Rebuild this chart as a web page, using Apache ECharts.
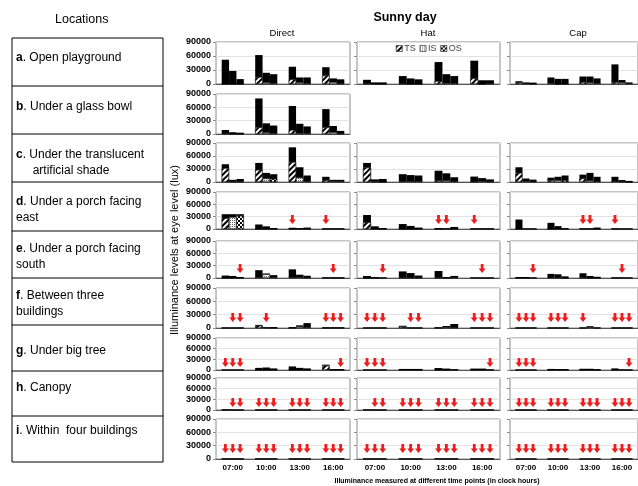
<!DOCTYPE html>
<html>
<head>
<meta charset="utf-8">
<script src="https://cdn.jsdelivr.net/npm/echarts@6/dist/echarts.min.js"></script>
<style>
  html, body { margin: 0; padding: 0; background: #fff; }
  #chart { width: 638px; height: 486px; }
</style>
</head>
<body>
<div id="chart"></div>
<script>
// time points and panel columns
const times = ['07:00', '10:00', '13:00', '16:00']
const columns = ['Direct', 'Hat', 'Cap']
const positions = ['TS', 'IS', 'OS']
const locations = [
  ['{b|a}. Open playground'],
  ['{b|b}. Under a glass bowl'],
  ['{b|c}. Under the translucent', '     artificial shade'],
  ['{b|d}. Under a porch facing', 'east'],
  ['{b|e}. Under a porch facing', 'south'],
  ['{b|f}. Between three', 'buildings'],
  ['{b|g}. Under big tree'],
  ['{b|h}. Canopy'],
  ['{b|i}. Within  four buildings']
]

// per row: [Direct, Hat, Cap], 12 values each: (07:00 TS,IS,OS, 10:00 TS,IS,OS, ...)
const totalA = [
  [52000, 28000, 10500, 62000, 24000, 21000, 37000, 14000, 14000, 36000, 12000, 10000],
  [9000, 3500, 3500, 17000, 12000, 10000, 47000, 21000, 17000, 50000, 8000, 8000],
  [6000, 3500, 3000, 14000, 11000, 11000, 16000, 16000, 12000, 42000, 8500, 3500]
]
const patternA = [
  [0, 0, 0, 15000, 3000, 2000, 10000, 3000, 2000, 18000, 4000, 1000],
  [1000, 0, 0, 1000, 0, 0, 6000, 2000, 2000, 12000, 0, 1000],
  [3000, 1000, 0, 2000, 0, 0, 4000, 3000, 2000, 4000, 3000, 1000]
]
const arrowsA = [null, null, null]

const totalB = [
  [9000, 4000, 3000, 80000, 24000, 19000, 63000, 23000, 17000, 56000, 18000, 7000],
  null, null
]
const patternB = [
  [1000, 0, 0, 15000, 3000, 2000, 9000, 2000, 2000, 15000, 4000, 1000],
  null, null
]
const arrowsB = [null, null, null]

const totalC = [
  [41000, 5000, 7000, 44000, 21000, 18000, 80000, 34000, 15000, 12000, 5000, 5000],
  [44000, 6000, 7000, 18000, 16000, 15000, 26000, 20000, 11000, 12500, 9000, 6000],
  [34000, 8000, 5500, 10000, 12000, 15000, 17000, 21000, 12000, 12000, 4500, 2500]
]
const patternC = [
  [32000, 1000, 1000, 28000, 8000, 7000, 46000, 10000, 2000, 4000, 2000, 2000],
  [33000, 1000, 0, 2000, 2000, 2000, 3000, 3000, 2000, 1000, 2000, 1000],
  [21000, 2000, 1000, 4000, 4000, 4000, 8000, 3000, 2000, 2000, 1000, 0]
]
const arrowsC = [null, null, null]

const totalD = [
  [36000, 36000, 36000, 11000, 6500, 2500, 3000, 2000, 3500, 1500, 1500, 1500],
  [34000, 6500, 2500, 12000, 7500, 3500, 2500, 1500, 5000, 1500, 1500, 1500],
  [23000, 1000, 1000, 15000, 7000, 2000, 1500, 1500, 3500, 1500, 1000, 1000]
]
const patternD = [
  [26000, 29000, 32000, 0, 0, 0, 0, 0, 0, 0, 0, 0],
  [16000, 0, 0, 0, 0, 0, 0, 0, 0, 0, 0, 0],
  [0, 0, 0, 0, 0, 0, 0, 0, 0, 0, 0, 0]
]
const arrowsD = [
  [0, 0, 0, 0, 0, 0, 1, 0, 0, 1, 0, 0],
  [0, 0, 0, 0, 0, 0, 1, 1, 0, 1, 0, 0],
  [0, 0, 0, 0, 0, 0, 1, 1, 0, 1, 0, 0]
]

const totalE = [
  [6000, 5000, 2500, 19000, 11000, 7000, 21000, 8000, 5500, 1500, 1500, 1500],
  [5000, 2000, 1000, 16000, 12000, 6000, 17000, 2000, 5000, 1000, 1000, 1000],
  [2500, 2500, 1000, 10000, 9000, 4000, 11500, 5000, 3000, 1500, 1000, 1000]
]
const patternE = [
  [0, 0, 0, 2000, 9000, 2000, 2000, 2000, 1000, 0, 0, 0],
  [0, 0, 0, 1000, 1000, 1000, 1000, 0, 1000, 0, 0, 0],
  [0, 0, 0, 1000, 1000, 0, 1000, 0, 0, 0, 0, 0]
]
const arrowsE = [
  [0, 0, 1, 0, 0, 0, 0, 0, 0, 0, 1, 0],
  [0, 0, 1, 0, 0, 0, 0, 0, 0, 0, 1, 0],
  [0, 0, 1, 0, 0, 0, 0, 0, 0, 0, 1, 0]
]

const totalF = [
  [1000, 1000, 1000, 7000, 2000, 2000, 2000, 6000, 11000, 1500, 1500, 1500],
  [1000, 1000, 1000, 5000, 1000, 1000, 1500, 4500, 9000, 1000, 1000, 1000],
  [1000, 1000, 1000, 1000, 1000, 1000, 1000, 4000, 1000, 1000, 1000, 1000]
]
const patternF = [
  [0, 0, 0, 5000, 1000, 0, 0, 3000, 2000, 0, 0, 0],
  [0, 0, 0, 3000, 0, 0, 0, 2000, 1000, 0, 0, 0],
  [0, 0, 0, 0, 0, 0, 0, 2000, 0, 0, 0, 0]
]
const arrowsF = [
  [0, 1, 1, 0, 1, 0, 0, 0, 0, 1, 1, 1],
  [1, 1, 1, 0, 1, 1, 0, 0, 0, 1, 1, 1],
  [1, 1, 1, 1, 1, 1, 1, 0, 0, 1, 1, 1]
]

const totalG = [
  [1000, 1000, 1000, 6000, 7000, 4500, 10000, 6000, 4500, 15000, 2500, 2500],
  [1000, 1000, 1000, 3000, 3000, 3000, 5500, 4000, 2000, 4000, 4000, 1500],
  [1000, 1000, 1000, 3000, 2500, 2500, 3500, 3500, 2500, 4500, 1500, 1000]
]
const patternG = [
  [0, 0, 0, 0, 0, 0, 0, 0, 0, 12000, 0, 0],
  [0, 0, 0, 0, 0, 0, 0, 0, 0, 0, 0, 0],
  [0, 0, 0, 0, 0, 0, 0, 0, 0, 0, 0, 0]
]
const arrowsG = [
  [1, 1, 1, 0, 0, 0, 0, 0, 0, 0, 0, 1],
  [1, 1, 1, 0, 0, 0, 0, 0, 0, 0, 0, 1],
  [1, 1, 1, 0, 0, 0, 0, 0, 0, 0, 0, 1]
]

const totalH = [
  [2000, 1200, 1200, 1200, 1200, 1200, 1200, 1200, 1200, 1200, 1200, 1200],
  [1500, 1200, 1200, 1200, 1200, 1200, 1200, 1200, 1200, 1200, 1200, 1200],
  [1200, 1200, 1200, 1200, 1200, 1200, 1200, 1200, 1200, 1200, 1200, 1200]
]
const patternH = [null, null, null]
const arrowsH = [
  [0, 1, 1, 1, 1, 1, 1, 1, 1, 1, 1, 1],
  [0, 1, 1, 1, 1, 1, 1, 1, 1, 1, 1, 1],
  [1, 1, 1, 1, 1, 1, 1, 1, 1, 1, 1, 1]
]

const totalI = [
  [1200, 1200, 1200, 1200, 1200, 1200, 1200, 1200, 1200, 1200, 1200, 1200],
  [1200, 1200, 1200, 1200, 1200, 1200, 1200, 1200, 1200, 1200, 1200, 1200],
  [800, 800, 800, 800, 800, 800, 800, 800, 800, 800, 800, 800]
]
const patternI = [null, null, null]
const arrowsI = [
  [1, 1, 1, 1, 1, 1, 1, 1, 1, 1, 1, 1],
  [1, 1, 1, 1, 1, 1, 1, 1, 1, 1, 1, 1],
  [1, 1, 1, 1, 1, 1, 1, 1, 1, 1, 1, 1]
]

const arrowLevel = 34000

const rows = [
  [totalA, patternA, arrowsA], [totalB, patternB, arrowsB], [totalC, patternC, arrowsC],
  [totalD, patternD, arrowsD], [totalE, patternE, arrowsE], [totalF, patternF, arrowsF],
  [totalG, patternG, arrowsG], [totalH, patternH, arrowsH], [totalI, patternI, arrowsI]
]

// layout
const colLeft = [216, 357, 510]
const colWidth = [134, 143, 140]
const rowTop = [42, 94, 143, 192, 241, 288, 338, 378, 419]
const rowHeight = [42, 40, 39, 37, 37, 40, 32, 32, 40]
const tableLines = [38, 86, 134, 182, 231, 278, 325, 371, 416, 462]
const textY = [[58], [107], [155, 171], [202, 218], [249, 265], [296, 312], [351], [388], [431]]

const FONT = 'Liberation Sans, Arial, sans-serif'
const ARROW = 'path://M3,0L7,0L7,6L10,6L5,12L0,6L3,6Z'

const decals = [
  { symbol: 'rect', symbolSize: 1, dashArrayX: [1, 0], dashArrayY: [1.5, 1.8], rotation: -Math.PI / 4, color: '#000' },
  { symbol: 'rect', symbolSize: 1, dashArrayX: [1, 1], dashArrayY: [1, 1], rotation: 0, color: '#666' },
  { symbol: 'rect', symbolSize: 1, dashArrayX: [[2, 2], [0, 2, 2, 0]], dashArrayY: [2, 0], rotation: 0, color: '#000' }
]

const grids = []
const xAxes = []
const yAxes = []
const series = []

rows.forEach(([totals, patterns, arrows], r) => {
  columns.forEach((col, c) => {
    if (!totals[c]) return
    const k = grids.length
    grids.push({
      left: colLeft[c], top: rowTop[r], width: colWidth[c], height: rowHeight[r],
      show: true, borderColor: '#8a8a8a', borderWidth: 1, backgroundColor: '#fff'
    })
    xAxes.push({
      type: 'category', gridIndex: k, data: times,
      axisLine: { lineStyle: { color: '#555' } },
      axisTick: { show: false },
      axisLabel: {
        show: r === rows.length - 1, fontSize: 8, fontWeight: 'bold', color: '#000',
        fontFamily: FONT, margin: 5
      }
    })
    yAxes.push({
      type: 'value', gridIndex: k, min: 0, max: 90000, interval: 30000,
      axisLine: { show: false },
      axisTick: { show: true, length: 3, lineStyle: { color: '#8a8a8a' } },
      splitLine: { lineStyle: { color: '#e2e2e2' } },
      axisLabel: {
        show: c === 0, fontSize: 9, fontWeight: 'bold', color: '#000',
        fontFamily: FONT, margin: 5, formatter: v => String(v)
      }
    })
    positions.forEach((p, b) => {
      const pat = times.map((t, g) => patterns[c] ? patterns[c][g * 3 + b] : 0)
      const top = times.map((t, g) => totals[c][g * 3 + b] - pat[g])
      const stackId = 'g' + k + 'p' + b
      series.push({
        name: p, type: 'bar', xAxisIndex: k, yAxisIndex: k, stack: stackId,
        barGap: 0, barCategoryGap: '34%', data: pat,
        itemStyle: { color: '#fff', decal: decals[b], borderColor: '#000', borderWidth: 0.4 },
        silent: true
      })
      series.push({
        name: p + ' max', type: 'bar', xAxisIndex: k, yAxisIndex: k, stack: stackId,
        barGap: 0, barCategoryGap: '34%', data: top,
        itemStyle: { color: '#000' },
        silent: true
      })
      if (arrows[c]) {
        series.push({
          name: 'arrow' + b, type: 'pictorialBar', xAxisIndex: k, yAxisIndex: k,
          barGap: 0, barCategoryGap: '34%',
          symbol: ARROW, symbolSize: [7, 9], symbolPosition: 'end',
          data: times.map((t, g) => arrows[c][g * 3 + b] ? arrowLevel : '-'),
          itemStyle: { color: '#ee1d1d' }, z: 5, silent: true
        })
      }
    })
  })
})

// left table and texts
const graphic = []
graphic.push({
  type: 'text', left: 55, top: 13,
  style: { text: 'Locations', font: '12.5px ' + FONT, fill: '#000' }
})
graphic.push({
  type: 'rect', shape: { x: 12, y: tableLines[0], width: 151, height: tableLines[9] - tableLines[0] },
  style: { fill: 'none', stroke: '#000', lineWidth: 1 }
})
tableLines.slice(1, -1).forEach(y => {
  graphic.push({
    type: 'line', shape: { x1: 12, y1: y, x2: 163, y2: y },
    style: { stroke: '#000', lineWidth: 1 }
  })
})
locations.forEach((lines, i) => {
  lines.forEach((txt, j) => {
    graphic.push({
      type: 'text', x: 16, y: textY[i][j],
      style: {
        text: txt, fill: '#000', font: '12px ' + FONT, verticalAlign: 'middle',
        rich: { b: { fontWeight: 'bold', fontSize: 12, fontFamily: FONT } }
      }
    })
  })
})
graphic.push({
  type: 'text', x: 405, y: 18,
  style: { text: 'Sunny day', font: 'bold 12.5px ' + FONT, fill: '#000', align: 'center', verticalAlign: 'middle' }
})
const colTitleX = [282, 428, 578]
columns.forEach((col, c) => {
  graphic.push({
    type: 'text', x: colTitleX[c], y: 33,
    style: { text: col, font: '9.5px ' + FONT, fill: '#000', align: 'center', verticalAlign: 'middle' }
  })
})
graphic.push({
  type: 'text', x: 175, y: 250, rotation: Math.PI / 2,
  style: {
    text: 'Illuminance levels at eye level (lux)', font: '11px ' + FONT, fill: '#000',
    align: 'center', verticalAlign: 'middle'
  }
})
graphic.push({
  type: 'text', x: 437, y: 481,
  style: {
    text: 'Illuminance measured at different time points (in clock hours)',
    font: 'bold 7px ' + FONT, fill: '#000', align: 'center', verticalAlign: 'middle'
  }
})

const chart = echarts.init(document.getElementById('chart'))
chart.setOption({
  animation: false,
  backgroundColor: '#fff',
  textStyle: { fontFamily: FONT },
  legend: {
    data: positions, left: 396, top: 44, icon: 'rect',
    itemWidth: 6, itemHeight: 6, itemGap: 4, padding: 0,
    textStyle: { fontSize: 9, color: '#444', fontFamily: FONT, padding: [0, 0, 0, -3] },
    itemStyle: { borderColor: '#444', borderWidth: 0.5 }
  },
  grid: grids,
  xAxis: xAxes,
  yAxis: yAxes,
  series: series,
  graphic: graphic
})
</script>
</body>
</html>
